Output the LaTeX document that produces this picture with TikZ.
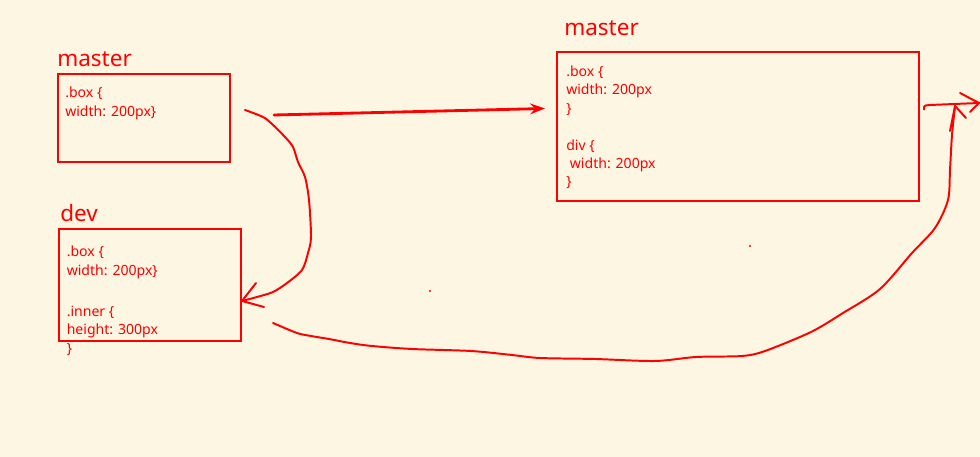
\documentclass[tikz,border=0pt]{standalone}
\usepackage{fontspec}
\setmainfont{Noto Sans}
\usetikzlibrary{arrows.meta,positioning}
\definecolor{paper}{RGB}{253,246,227}
\definecolor{ink}{RGB}{255,0,0}
\tikzset{
  codebox/.style={draw=ink, line width=1.4pt, inner sep=0pt, anchor=north west},
  codetext/.style={text=ink, font=\fontsize{10}{13.1}\selectfont, align=left, inner sep=0pt, anchor=north west},
  branch/.style={text=ink, font=\fontsize{16}{19}\selectfont, inner sep=0pt, anchor=base west},
  pen/.style={draw=ink, line width=1.4pt, line cap=round, line join=round},
}
\begin{document}
\begin{tikzpicture}[x=0.025cm,y=-0.025cm]
\fill[paper] (0,0) rectangle (980,457);
\useasboundingbox (0,0) rectangle (980,457);

% MASTER (left)
\node[branch] (m1name) at (57,67) {master};
\node[codebox, minimum width=4.3cm, minimum height=2.2cm] (m1box) at (57,73) {};
\node[codetext] (m1code) at (65,87) {.box \{\\width: 200px\}};

% DEV
\node[branch] (devname) at (60,222) {dev};
\node[codebox, minimum width=4.55cm, minimum height=2.8cm] (devbox) at (58,228) {};
\node[codetext] (devcode) at (66.5,246) {.box \{\\width: 200px\}\\[3pt] \mbox{}\\.inner \{\\height: 300px\\\}};

% MASTER (right)
\node[branch] (m2name) at (564,36) {master};
\node[codebox, minimum width=9.05cm, minimum height=3.725cm] (m2box) at (556,51) {};
\node[codetext] (m2code) at (566,65.5) {.box \{\\width: 200px\\\}\\ \mbox{}\\div \{\\\ width: 200px\\\}};

% MERGE master -> master
\coordinate (push-a) at ([shift={(43,-3)}]m1box.east);
\coordinate (push-b) at ([shift={(-11,-18)}]m2box.west);
\draw[pen, line width=2pt, -{Stealth[length=10.5pt,width=7.6pt]}] (push-a) -- (push-b);

% master -> dev
\coordinate (pull-tip) at ([shift={(0,16)}]devbox.east);
\draw[pen] plot[smooth, tension=0.5] coordinates {(245,110) (263,117) (272,124) (285,137) (293,147) (298,162) (305,177) (309,200) (311,237) (308,253) (302,270) (287,283) (273,292) (257,297) (pull-tip)};
\draw[pen] (256,283) -- (pull-tip) -- (264,307);

% dev -> master
\coordinate (rise-a) at ([shift={(31,-19)}]devbox.south east);
\coordinate (rise-tip) at ([shift={(35,-20.5)}]m2box.east);
\draw[pen] plot[smooth, tension=0.5] coordinates {(rise-a) (297,333) (311,336) (329,339) (350,343) (372,346) (412,349) (471,351) (512,355) (540,358) (595,359) (655,361) (696,357) (742,356) (765,351) (811,332) (843,313) (880,289) (912,253) (935,228) (948,200) (950,170) (952,135) (rise-tip)};
\draw[pen] (950,131) -- (rise-tip) -- (966,118);

% out of master
\coordinate (out-a) at ([shift={(4,-17)}]m2box.east);
\coordinate (out-tip) at (979,103);
\draw[pen] (out-a) .. controls (924,105.5) .. (930,105) -- (out-tip);
\draw[pen] (960,93) -- (out-tip) -- (970,112);

% dots
\fill[ink] (430,291) circle[radius=0.8pt];
\fill[ink] (750,246) circle[radius=0.8pt];
\end{tikzpicture}
\end{document}
